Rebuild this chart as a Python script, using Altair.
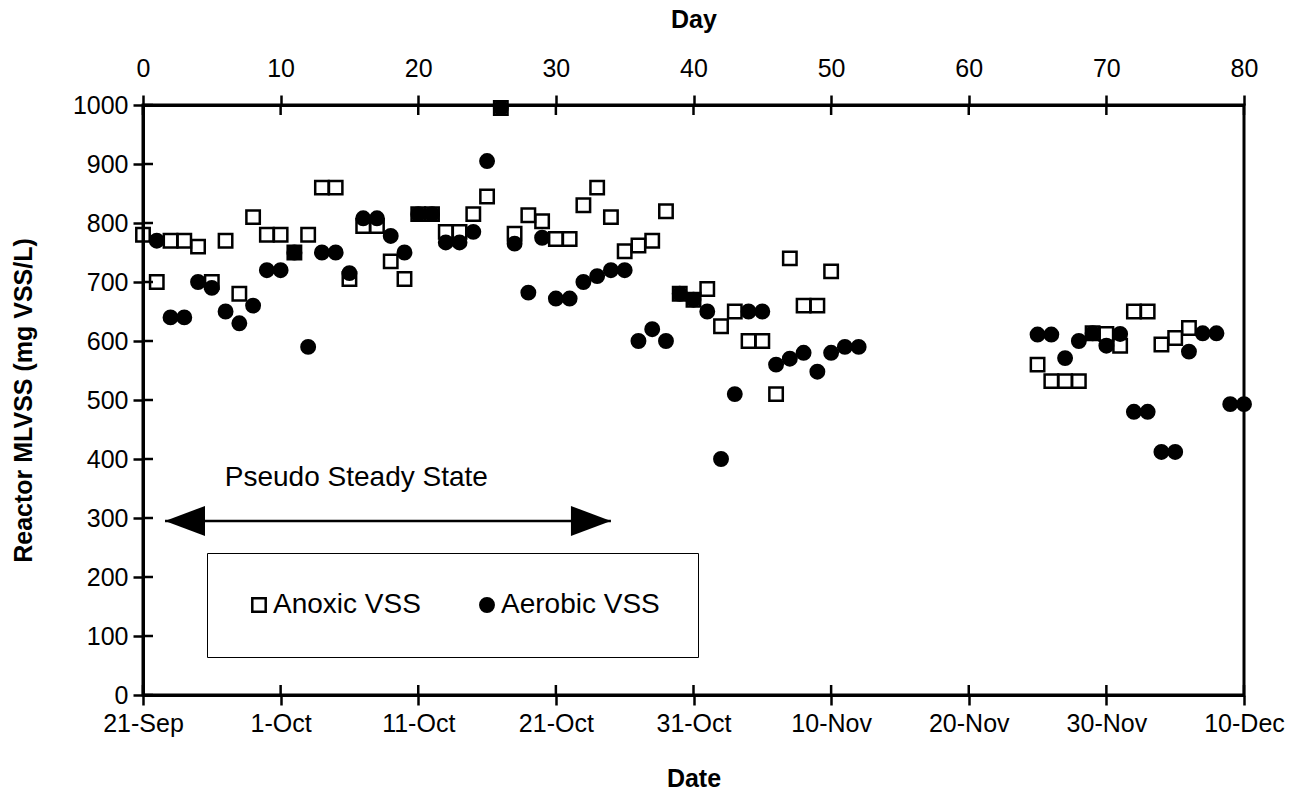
import altair as alt
import pandas as pd

# Day 0 = 21 September; samples taken daily
anoxic_day = [0, 1, 2, 3, 4, 5, 6, 7, 8, 9, 10, 11, 12, 13, 14, 15, 16, 17, 18, 19,
              20, 21, 22, 23, 24, 25, 26, 27, 28, 29, 30, 31, 32, 33, 34, 35, 36, 37, 38, 39,
              40, 41, 42, 43, 44, 45, 46, 47, 48, 49, 50,
              65, 66, 67, 68, 69, 70, 71, 72, 73, 74, 75, 76]
anoxic_vss = [780, 700, 770, 770, 760, 700, 770, 680, 810, 780, 780, 750, 780, 860, 860, 705, 795, 795, 735, 705,
              815, 815, 785, 785, 815, 845, 995, 782, 813, 803, 773, 773, 830, 860, 810, 752, 762, 770, 820, 680,
              670, 688, 625, 650, 600, 600, 510, 740, 660, 660, 718,
              560, 532, 532, 532, 613, 612, 592, 650, 650, 594, 605, 622]

aerobic_day = [1, 2, 3, 4, 5, 6, 7, 8, 9, 10, 11, 12, 13, 14, 15, 16, 17, 18, 19,
               20, 21, 22, 23, 24, 25, 26, 27, 28, 29, 30, 31, 32, 33, 34, 35, 36, 37, 38, 39,
               40, 41, 42, 43, 44, 45, 46, 47, 48, 49, 50, 51, 52,
               65, 66, 67, 68, 69, 70, 71, 72, 73, 74, 75, 76, 77, 78, 79, 80]
aerobic_vss = [770, 640, 640, 700, 690, 650, 630, 660, 720, 720, 750, 590, 750, 750, 715, 808, 808, 778, 750,
               815, 815, 767, 767, 785, 905, 995, 765, 682, 775, 672, 672, 700, 710, 720, 720, 600, 620, 600, 680,
               670, 650, 400, 510, 650, 650, 560, 570, 580, 548, 580, 590, 590,
               611, 611, 571, 600, 613, 592, 612, 480, 480, 412, 412, 582, 613, 613, 493, 493]

series_names = ["Anoxic VSS", "Aerobic VSS"]
day_ticks = [0, 10, 20, 30, 40, 50, 60, 70, 80]
date_labels = ["21-Sep", "1-Oct", "11-Oct", "21-Oct", "31-Oct", "10-Nov", "20-Nov", "30-Nov", "10-Dec"]
vss_ticks = [0, 100, 200, 300, 400, 500, 600, 700, 800, 900, 1000]

# Pseudo steady state period marker
steady_start, steady_end, steady_level = 1.6, 34.0, 295
steady_label = "Pseudo Steady State"
steady_label_day, steady_label_level = 15.5, 368

W, H = 1101, 590
FONT = "Liberation Sans"

points = pd.DataFrame({
    "day": anoxic_day + aerobic_day,
    "vss": anoxic_vss + aerobic_vss,
    "series": [series_names[0]] * len(anoxic_day) + [series_names[1]] * len(aerobic_day),
})

xscale = alt.Scale(domain=[0, 80], nice=False, zero=False)
yscale = alt.Scale(domain=[0, 1000], nice=False)

label_expr = "[" + ",".join(f"'{s}'" for s in date_labels) + "][round(datum.value / 10)]"

scatter = alt.Chart(points).mark_point(
    filled=True, strokeWidth=2.5, size=180, opacity=1
).encode(
    x=alt.X("day:Q", scale=xscale,
            axis=alt.Axis(orient="bottom", values=day_ticks, labelExpr=label_expr,
                          title="Date", titlePadding=30, labelPadding=6)),
    y=alt.Y("vss:Q", scale=yscale,
            axis=alt.Axis(values=vss_ticks, format="d", title="Reactor MLVSS (mg VSS/L)",
                          titlePadding=36, labelPadding=5)),
    shape=alt.Shape("series:N", scale=alt.Scale(domain=series_names, range=["square", "circle"]),
                    legend=alt.Legend(title=None)),
    fill=alt.Fill("series:N", scale=alt.Scale(domain=series_names, range=["transparent", "black"]),
                  legend=alt.Legend(title=None)),
    stroke=alt.Stroke("series:N", scale=alt.Scale(domain=series_names, range=["black", "black"]),
                      legend=alt.Legend(title=None)),
)

# Top "Day" axis sharing the same scale
top_ticks = alt.Chart(pd.DataFrame({"day": day_ticks})).mark_rule(
    color="black", strokeWidth=2.5
).encode(
    x=alt.X("day:Q", scale=xscale,
            axis=alt.Axis(orient="top", values=day_ticks, title="Day", titlePadding=24,
                          labelPadding=14, format="d")),
    y=alt.value(0), y2=alt.value(10),
)

bottom_ticks = alt.Chart(pd.DataFrame({"day": day_ticks})).mark_rule(
    color="black", strokeWidth=2.5
).encode(
    x=alt.X("day:Q", scale=xscale, axis=None),
    y=alt.value(H), y2=alt.value(H - 10),
)

left_ticks = alt.Chart(pd.DataFrame({"vss": vss_ticks})).mark_rule(
    color="black", strokeWidth=2.5
).encode(
    y=alt.Y("vss:Q", scale=yscale, axis=None),
    x=alt.value(0), x2=alt.value(10),
)

arrow_df = pd.DataFrame({"start": [steady_start], "end": [steady_end], "level": [steady_level]})
arrow_line = alt.Chart(arrow_df).mark_rule(color="black", strokeWidth=2.5).encode(
    x=alt.X("start:Q", scale=xscale, axis=None),
    x2="end:Q",
    y=alt.Y("level:Q", scale=yscale, axis=None),
)
head_left = alt.Chart(arrow_df).mark_point(
    shape="M0,0L2,-0.75L2,0.75Z", filled=True, color="black", size=1600, opacity=1
).encode(
    x=alt.X("start:Q", scale=xscale, axis=None),
    y=alt.Y("level:Q", scale=yscale, axis=None),
)
head_right = alt.Chart(arrow_df).mark_point(
    shape="M0,0L-2,-0.75L-2,0.75Z", filled=True, color="black", size=1600, opacity=1
).encode(
    x=alt.X("end:Q", scale=xscale, axis=None),
    y=alt.Y("level:Q", scale=yscale, axis=None),
)

label = alt.Chart(pd.DataFrame({"day": [steady_label_day], "level": [steady_label_level],
                                "text": [steady_label]})).mark_text(
    font=FONT, fontSize=28, align="center", baseline="middle", color="black"
).encode(
    x=alt.X("day:Q", scale=xscale, axis=None),
    y=alt.Y("level:Q", scale=yscale, axis=None),
    text="text:N",
)

chart = alt.layer(
    arrow_line, head_left, head_right, label, left_ticks, bottom_ticks, top_ticks, scatter
).resolve_axis(
    x="independent", y="independent"
).properties(
    width=W, height=H,
    autosize=alt.AutoSizeParams(type="none"),
    padding={"left": 143, "top": 105, "right": 55, "bottom": 99},
).configure(
    font=FONT,
    background="white",
).configure_view(
    stroke="black", strokeWidth=3,
).configure_axis(
    domainColor="black", domainWidth=3,
    tickColor="black", tickWidth=2.5, tickSize=10,
    grid=False, labelFlush=False, labelOverlap=False,
    labelFont=FONT, labelFontSize=25, labelColor="black",
    titleFont=FONT, titleFontSize=25, titleFontWeight="bold", titleColor="black",
).configure_legend(
    orient="none", legendX=64, legendY=448, direction="horizontal",
    strokeColor="black", fillColor="white", padding=38,
    labelFont=FONT, labelFontSize=28, labelColor="black", labelOffset=0, labelLimit=300,
    symbolSize=180, symbolStrokeWidth=2.5,
    columnPadding=52,
)

chart.save("out.html", embed_options={"renderer": "svg", "actions": False})
